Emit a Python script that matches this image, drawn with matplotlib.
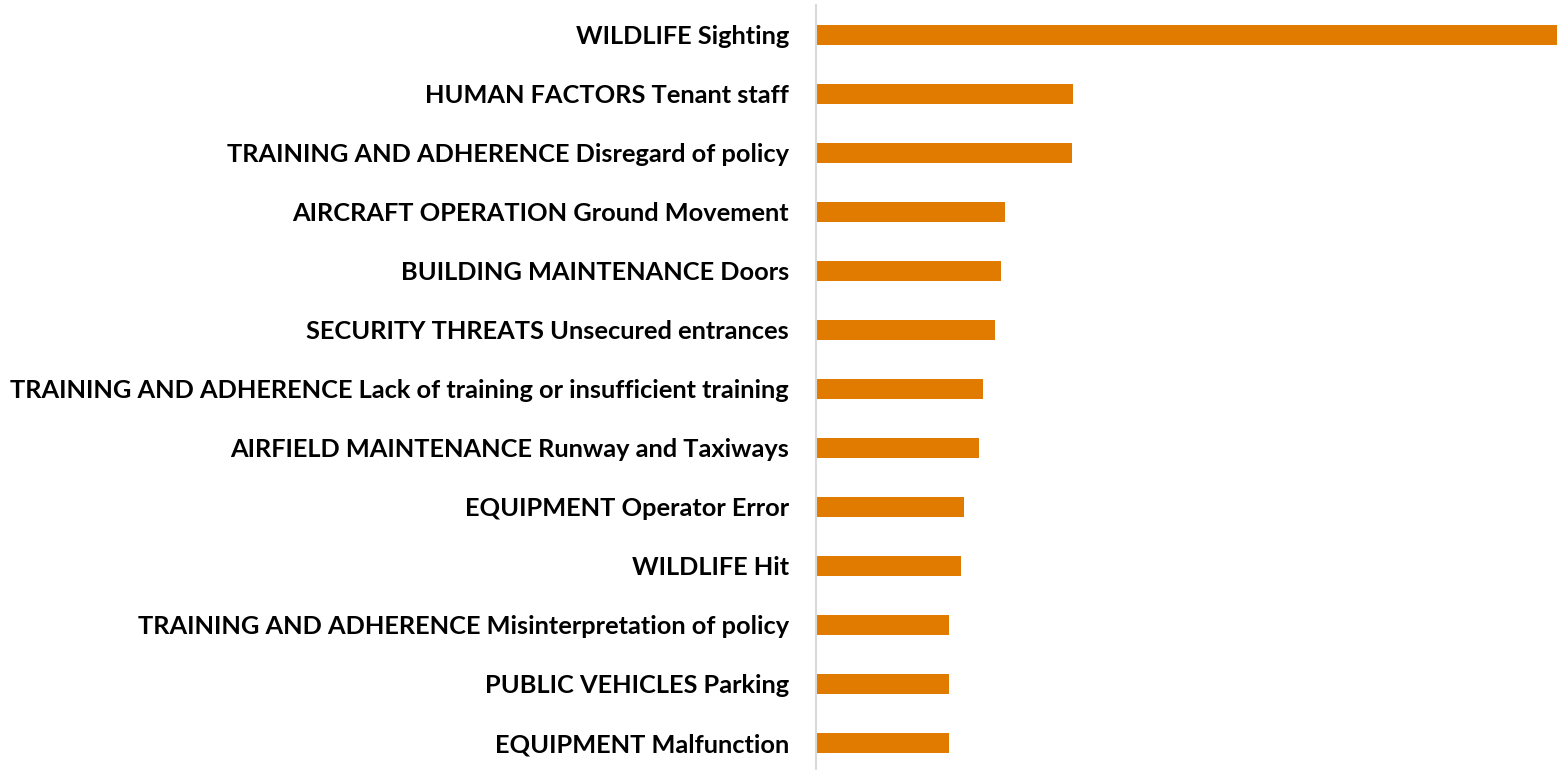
import matplotlib
matplotlib.use("Agg")
import matplotlib.pyplot as plt

# categories, top to bottom as in the reference
categories = [
    "WILDLIFE Sighting",
    "HUMAN FACTORS Tenant staff",
    "TRAINING AND ADHERENCE Disregard of policy",
    "AIRCRAFT OPERATION Ground Movement",
    "BUILDING MAINTENANCE Doors",
    "SECURITY THREATS Unsecured entrances",
    "TRAINING AND ADHERENCE Lack of training or insufficient training",
    "AIRFIELD MAINTENANCE Runway and Taxiways",
    "EQUIPMENT Operator Error",
    "WILDLIFE Hit",
    "TRAINING AND ADHERENCE Misinterpretation of policy",
    "PUBLIC VEHICLES Parking",
    "EQUIPMENT Malfunction",
]
counts = [741, 257, 256, 189, 185, 179, 167, 163, 148, 145, 133, 133, 133]

BAR_COLOR = "#E07B00"

plt.rcParams["font.family"] = ["Lato", "DejaVu Sans"]

fig = plt.figure(figsize=(15.64, 7.70), dpi=100)
ax = fig.add_axes([816 / 1564, -0.003, (1557 - 816) / 1564, 0.996])

ypos = list(range(len(categories)))
ax.barh(ypos, counts, height=0.34, color=BAR_COLOR)
ax.set_ylim(len(categories) - 0.5, -0.5)
ax.set_xlim(0, max(counts))

ax.set_yticks(ypos)
ax.set_yticklabels(categories, fontsize=18.3, fontweight="bold", color="#000000")
ax.tick_params(axis="y", length=0, pad=19.5)
ax.set_xticks([])

for side in ["top", "right", "bottom"]:
    ax.spines[side].set_visible(False)
ax.spines["left"].set_color("#D9D9D9")
ax.spines["left"].set_linewidth(1.5)

fig.savefig("out.png", dpi=100)
